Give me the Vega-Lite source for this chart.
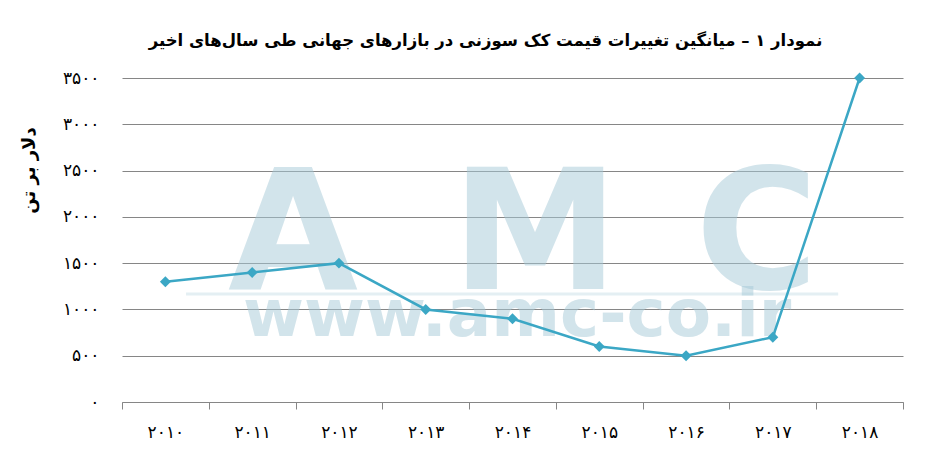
{
  "$schema": "https://vega.github.io/schema/vega-lite/v6.json",
  "width": 781,
  "height": 324,
  "autosize": {"type": "none"},
  "padding": {"left": 122, "top": 78, "right": 44, "bottom": 72},
  "background": "white",
  "title": {
    "text": "نمودار ۱ – میانگین تغییرات قیمت کک سوزنی در بازارهای جهانی طی سال‌های اخیر",
    "font": "DejaVu Sans",
    "fontSize": 16.5,
    "fontWeight": "bold",
    "color": "#000000",
    "anchor": "middle",
    "frame": "group",
    "offset": 20,
    "dx": -27
  },
  "config": {
    "view": {"stroke": null},
    "font": "DejaVu Sans"
  },
  "datasets": {
    "prices": [
      {"year": "۲۰۱۰", "price": 1300},
      {"year": "۲۰۱۱", "price": 1400},
      {"year": "۲۰۱۲", "price": 1500},
      {"year": "۲۰۱۳", "price": 1000},
      {"year": "۲۰۱۴", "price": 900},
      {"year": "۲۰۱۵", "price": 600},
      {"year": "۲۰۱۶", "price": 500},
      {"year": "۲۰۱۷", "price": 700},
      {"year": "۲۰۱۸", "price": 3500}
    ],
    "wmLetters": [
      {"t": "A", "px": 21.9, "v": 1220},
      {"t": "M", "px": 52.9, "v": 1220},
      {"t": "C", "px": 81.3, "v": 1220}
    ],
    "wmUrl": [
      {"t": "www.amc-co.ir", "px": 50.6, "v": 713}
    ],
    "wmRule": [
      {"px": 8.2, "px2": 91.7, "v": 1167}
    ]
  },
  "layer": [
    {
      "data": {"name": "wmRule"},
      "mark": {"type": "rule", "color": "#e4eff3", "strokeWidth": 3},
      "encoding": {
        "x": {"field": "px", "type": "quantitative", "scale": {"domain": [0, 100]}, "axis": null},
        "x2": {"field": "px2"},
        "y": {"field": "v", "type": "quantitative", "scale": {"domain": [0, 3500], "nice": false}, "title": "دلار بر تن"}
      }
    },
    {
      "data": {"name": "wmLetters"},
      "mark": {"type": "text", "font": "DejaVu Sans", "fontWeight": "bold", "fontSize": 168, "align": "center", "baseline": "alphabetic", "color": "#a6cad8", "opacity": 0.5},
      "encoding": {
        "x": {"field": "px", "type": "quantitative", "scale": {"domain": [0, 100]}, "axis": null},
        "y": {"field": "v", "type": "quantitative", "title": "دلار بر تن"},
        "text": {"field": "t"}
      }
    },
    {
      "data": {"name": "wmUrl"},
      "mark": {"type": "text", "font": "DejaVu Sans", "fontWeight": "bold", "fontSize": 66, "align": "center", "baseline": "alphabetic", "color": "#a6cad8", "opacity": 0.5},
      "encoding": {
        "x": {"field": "px", "type": "quantitative", "scale": {"domain": [0, 100]}, "axis": null},
        "y": {"field": "v", "type": "quantitative", "title": "دلار بر تن"},
        "text": {"field": "t"}
      }
    },
    {
      "data": {"name": "prices"},
      "mark": {
        "type": "line",
        "color": "#3ba7c5",
        "strokeWidth": 2.5,
        "point": {"shape": "diamond", "size": 120, "filled": true, "color": "#3ba7c5", "opacity": 1}
      },
      "encoding": {
        "x": {
          "field": "year",
          "type": "ordinal",
          "sort": null,
          "scale": {"type": "band", "paddingInner": 0, "paddingOuter": 0},
          "axis": {
            "title": null,
            "labelAngle": 0,
            "tickBand": "extent",
            "domainColor": "#868686",
            "tickColor": "#868686",
            "tickSize": 7,
            "labelPadding": 15,
            "labelFontSize": 17,
            "labelColor": "#000000",
            "labelFont": "DejaVu Sans",
            "grid": false
          }
        },
        "y": {
          "field": "price",
          "type": "quantitative",
          "scale": {"domain": [0, 3500], "nice": false},
          "axis": {
            "title": "دلار بر تن",
            "values": [0, 500, 1000, 1500, 2000, 2500, 3000, 3500],
            "labelExpr": "replace(replace(replace(replace(replace(replace(replace(replace(replace(replace(format(datum.value,'d'),regexp('0','g'),'۰'),regexp('1','g'),'۱'),regexp('2','g'),'۲'),regexp('3','g'),'۳'),regexp('4','g'),'۴'),regexp('5','g'),'۵'),regexp('6','g'),'۶'),regexp('7','g'),'۷'),regexp('8','g'),'۸'),regexp('9','g'),'۹')",
            "ticks": false,
            "domain": false,
            "grid": true,
            "gridColor": "#868686",
            "gridWidth": 1,
            "labelPadding": 23,
            "labelFontSize": 17,
            "labelColor": "#000000",
            "labelFont": "DejaVu Sans",
            "titleFont": "DejaVu Sans",
            "titleFontSize": 18,
            "titleFontWeight": "bold",
            "titleColor": "#000000",
            "titleX": -84,
            "titleY": 92
          }
        }
      }
    }
  ],
  "resolve": {"scale": {"x": "independent"}}
}
